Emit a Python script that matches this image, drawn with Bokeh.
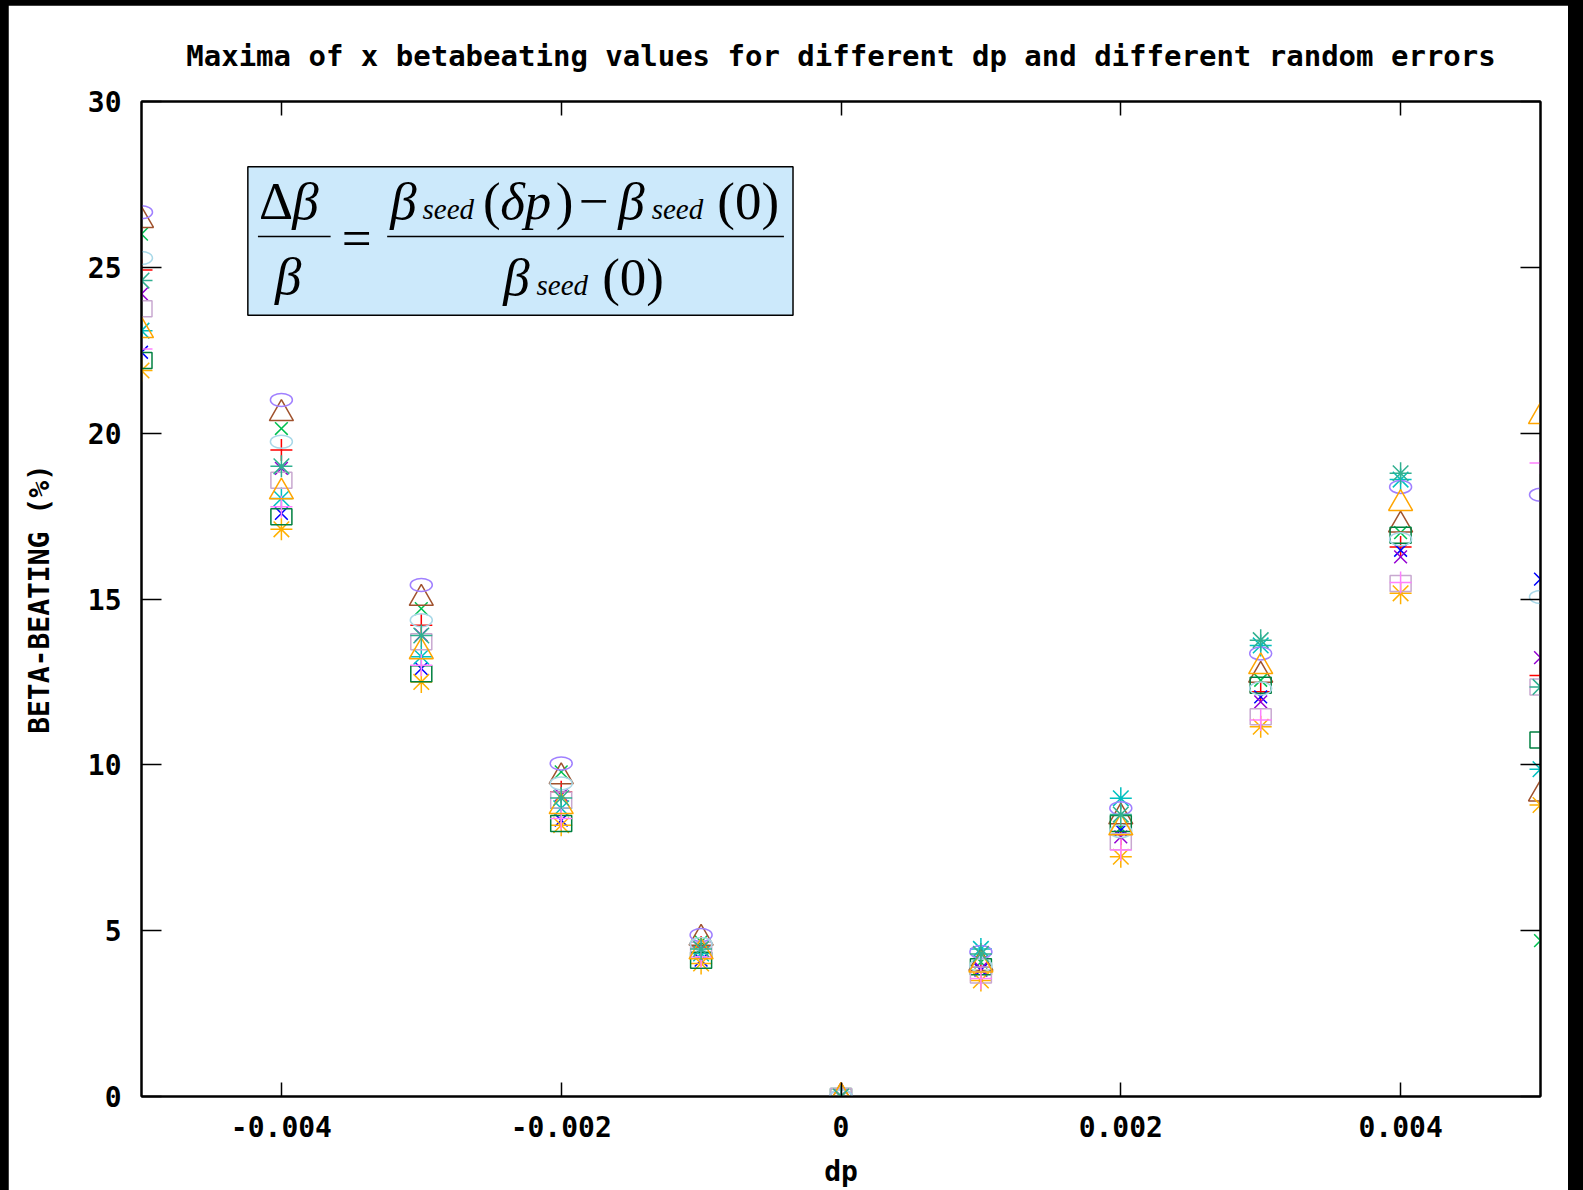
from bokeh.plotting import figure
from bokeh.models import (FixedTicker, LinearAxis, Label, BoxAnnotation, ColumnDataSource, Range1d,
                          CustomLabelingPolicy)
from bokeh.layouts import column
from bokeh.embed import file_html
from bokeh.resources import INLINE

# ---------------- data ----------------
dp = [-0.005, -0.004, -0.003, -0.002, -0.001, 0.0, 0.001, 0.002, 0.003, 0.004, 0.005]

seed01 = [24.92, 19.49, 14.21, 9.19, 4.51, 0.0, 3.90, 7.90, 12.20, 16.57, 12.69]
seed02 = [26.00, 20.14, 14.71, 9.79, 4.66, 0.0, 4.05, 8.10, 12.55, 17.00, 4.70]
seed03 = [22.44, 17.58, 12.90, 8.33, 4.11, 0.0, 3.81, 8.03, 12.05, 16.47, 15.60]
seed04 = [24.20, 18.94, 13.91, 9.09, 4.46, 0.0, 3.86, 7.83, 11.90, 16.27, 13.23]
seed05 = [23.09, 18.03, 13.26, 8.69, 4.31, 0.0, 4.45, 8.99, 13.60, 18.60, 9.87]
seed06 = [26.41, 20.59, 15.02, 9.64, 4.77, 0.0, 4.01, 8.43, 12.70, 17.23, 9.12]
seed07 = [21.89, 17.10, 12.50, 8.18, 4.01, 0.0, 3.50, 7.23, 11.15, 15.17, 8.79]
seed08 = [22.19, 17.48, 12.75, 8.23, 4.11, 0.0, 3.91, 8.23, 12.40, 16.92, 10.75]
seed09 = [23.75, 18.58, 13.71, 8.94, 4.41, 0.0, 3.66, 7.68, 11.45, 15.47, 12.35]
seed10 = [22.54, 17.78, 13.00, 8.38, 4.21, 0.0, 3.56, 7.43, 11.35, 15.50, 19.10]
seed11 = [26.66, 21.00, 15.42, 10.04, 4.87, 0.0, 4.36, 8.69, 13.36, 18.38, 18.14]
seed12 = [25.28, 19.74, 14.36, 9.44, 4.60, 0.0, 3.95, 8.00, 12.30, 16.80, 15.06]
seed13 = [23.09, 18.23, 13.41, 8.74, 4.36, 0.0, 3.96, 8.10, 12.96, 17.88, 20.50]
seed14 = [24.60, 19.00, 13.90, 9.00, 4.45, 0.0, 4.30, 8.50, 13.76, 18.79, 12.35]

seeds = [seed01, seed02, seed03, seed04, seed05, seed06, seed07,
         seed08, seed09, seed10, seed11, seed12, seed13, seed14]
seed_colors = ["#ff0000", "#00c050", "#0000ff", "#9400d3", "#00c0c0", "#a0522d", "#ffb000",
               "#008040", "#c8a8d0", "#ff80ff", "#a080ff", "#a8d8e8", "#ffa500", "#30b090"]
seed_markers = ["cross", "x", "x", "x", "asterisk", "triangle", "asterisk",
                "square", "square", "cross", "circle", "circle", "triangle", "asterisk"]

xtick_values = [-0.004, -0.002, 0.0, 0.002, 0.004]
xtick_labels = ["-0.004", "-0.002", "0", "0.002", "0.004"]
ytick_values = [0, 5, 10, 15, 20, 25, 30]
ytick_labels = ["0", "5", "10", "15", "20", "25", "30"]

title_text = "Maxima of x betabeating values for different dp and different random errors"
xlabel = "dp"
ylabel = "BETA-BEATING (%)"

# ---------------- figure ----------------
MONO = "DejaVu Sans Mono"
p = figure(width=1560, height=1185,
           x_range=Range1d(-0.005, 0.005), y_range=Range1d(0, 30),
           output_backend="svg", toolbar_location=None,
           min_border_left=133, min_border_right=28, min_border_top=96, min_border_bottom=94,
           title=title_text)
p.margin = (5, 15, 0, 8)
p.background_fill_color = "white"
p.border_fill_color = "white"
p.grid.visible = False
p.outline_line_color = "black"
p.outline_line_width = 2

p.title.align = "center"
p.title.text_font = MONO
p.title.text_font_size = "29px"
p.title.text_font_style = "bold"
p.title.text_color = "black"
p.title.standoff = 49

no_labels = CustomLabelingPolicy(code="""
for (const i of Array.from(indices)) { indices.unset(i) }
return indices
""")

def style_axis(ax, ticks, tick_len, show_labels):
    ax.ticker = FixedTicker(ticks=ticks)
    ax.major_tick_in = tick_len
    ax.major_tick_out = 0
    ax.major_tick_line_width = 1.5
    ax.major_tick_line_color = "black"
    ax.minor_tick_line_color = None
    ax.axis_line_color = "black"
    ax.axis_line_width = 2
    ax.major_label_text_font = MONO
    ax.major_label_text_font_style = "bold"
    ax.major_label_text_color = "black"
    if show_labels:
        ax.major_label_text_font_size = "28px"
    else:
        ax.major_label_text_font_size = "1px"
        ax.major_label_policy = no_labels
        ax.major_label_standoff = 0

xa = p.xaxis[0]
style_axis(xa, xtick_values, 14, True)
xa.major_label_overrides = {v: s for v, s in zip(xtick_values, xtick_labels)}
xa.major_label_standoff = 19
xa.axis_label = xlabel
xa.axis_label_text_font = MONO
xa.axis_label_text_font_style = "bold"
xa.axis_label_text_font_size = "28px"
xa.axis_label_text_color = "black"
xa.axis_label_standoff = 15

ya = p.yaxis[0]
style_axis(ya, ytick_values, 20, True)
ya.major_label_overrides = {v: s for v, s in zip(ytick_values, ytick_labels)}
ya.major_label_standoff = 20
ya.axis_label = ylabel
ya.axis_label_text_font = MONO
ya.axis_label_text_font_style = "bold"
ya.axis_label_text_font_size = "28px"
ya.axis_label_text_color = "black"
ya.axis_label_standoff = 29

ra = LinearAxis()
style_axis(ra, ytick_values, 20, False)
p.add_layout(ra, "right")
ta = LinearAxis()
style_axis(ta, xtick_values, 14, False)
p.add_layout(ta, "above")

# ---------------- points ----------------
for vals, col, mk in zip(seeds, seed_colors, seed_markers):
    src = ColumnDataSource(dict(x=dp, y=vals))
    if mk == "circle":
        p.ellipse("x", "y", width=22, height=13, width_units="screen", height_units="screen",
                  source=src, fill_color=None, line_color=col, line_width=1.5)
    elif mk == "square":
        p.rect("x", "y", width=21, height=16, width_units="screen", height_units="screen",
               source=src, fill_color=None, line_color=col, line_width=1.5)
    else:
        size = {"cross": 22, "x": 18, "asterisk": 22, "triangle": 24}[mk]
        p.scatter("x", "y", marker=mk, size=size, source=src, fill_color=None,
                  line_color=col, line_width=1.5)

# ---------------- formula box ----------------
def sx(X):  # full-res pixel x -> data x
    return -0.005 + (X - 141.0) / 139.9 * 0.001

def sy(Y):  # full-res pixel y -> data y
    return (1096.4 - Y) / 33.17

K = 1583.0 / 1568.0  # reference preview scale

box = BoxAnnotation(left=sx(245 * K), right=sx(785 * K), top=sy(165 * K), bottom=sy(312 * K),
                    fill_color="#cce9fb", fill_alpha=1.0, line_color="black", line_alpha=1.0,
                    line_width=1.5)
p.add_layout(box)

SERIF = "Liberation Serif"
DY = -19

def lab(text, X, Y, size, style="italic", align="left"):
    p.add_layout(Label(x=sx(X * K), y=sy((Y + DY) * K), text=text, text_font=SERIF,
                       text_font_size=size, text_font_style=style, text_color="black",
                       text_align=align, text_baseline="alphabetic"))

BIG = "53px"
SUB = "29px"
# fraction bars
p.segment(x0=[sx(255 * K), sx(383 * K)], y0=[sy(234 * K), sy(234 * K)],
          x1=[sx(327 * K), sx(776 * K)], y1=[sy(234 * K), sy(234 * K)],
          line_color="black", line_width=1.5, level="overlay")
# left fraction
lab("Δ", 256, 218, BIG, "normal")
lab("β", 289, 218, BIG)
lab("β", 272, 292, BIG)
lab("=", 338, 255, BIG, "normal")
# numerator
lab("β", 386, 218, BIG)
lab("seed", 418, 226, SUB)
lab("(", 478, 218, BIG, "normal")
lab("δp", 495, 218, BIG)
lab(")", 550, 218, BIG, "normal")
lab("−", 573, 218, BIG, "normal")
lab("β", 612, 218, BIG)
lab("seed", 645, 226, SUB)
lab("(0)", 710, 218, BIG, "normal")
# denominator
lab("β", 498, 293, BIG)
lab("seed", 531, 301, SUB)
lab("(0)", 596, 293, BIG, "normal")

layout = column(p, styles={"background-color": "black"})
open("out.html", "w").write(file_html(layout, INLINE))
